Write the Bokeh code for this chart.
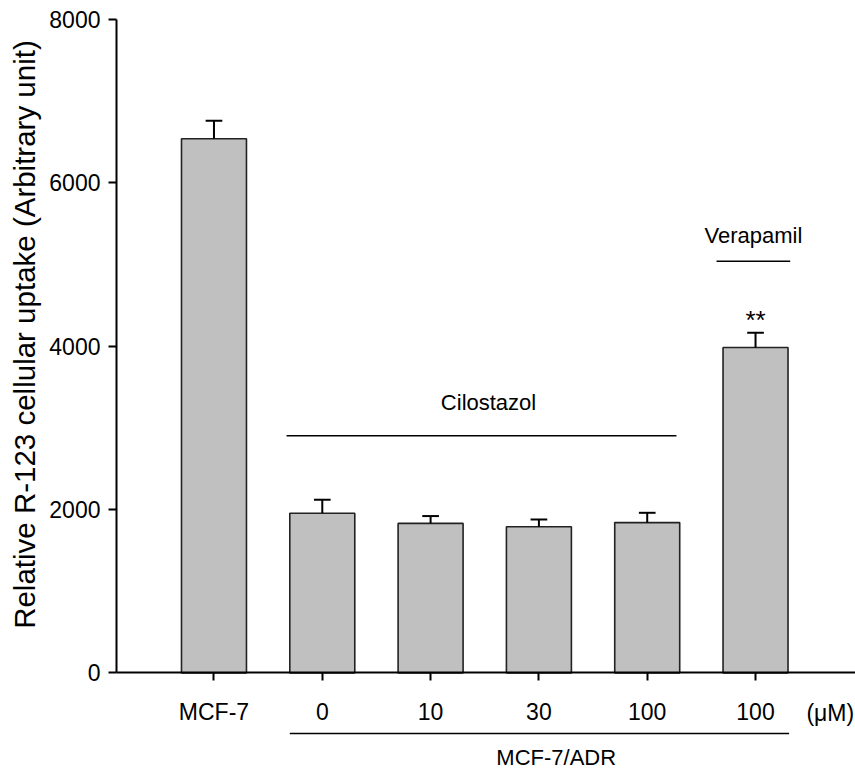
import math
from bokeh.plotting import figure
from bokeh.models import Range1d, FixedTicker, Label, ColumnDataSource
from bokeh.embed import file_html
from bokeh.resources import INLINE

# ---- data ----
categories = ["MCF-7", "0", "10", "30", "100", "100"]
positions = [1, 2, 3, 4, 5, 6]
values = [6540, 1955, 1830, 1790, 1840, 3985]
errors = [220, 165, 90, 88, 120, 180]
y_ticks = [0, 2000, 4000, 6000, 8000]
y_title = "Relative R-123 cellular uptake (Arbitrary unit)"

FONT = "Liberation Sans"

p = figure(width=855, height=770, output_backend="svg", toolbar_location=None,
           x_range=Range1d(-0.971, 6.923), y_range=Range1d(-1196, 8234),
           min_border_left=0, min_border_right=0, min_border_top=0,
           min_border_bottom=0)
p.outline_line_color = None
p.grid.visible = False
p.background_fill_color = "white"

tops = [v + e for v, e in zip(values, errors)]
src = ColumnDataSource(dict(x=positions, top=values, etop=tops,
                            cl=[x - 0.077 for x in positions],
                            cr=[x + 0.077 for x in positions]))

p.vbar(x="x", top="top", bottom=0, width=0.6, source=src,
       fill_color="#c0c0c0", line_color="#222222", line_width=1.6)
p.segment(x0="x", y0="top", x1="x", y1="etop", source=src,
          line_color="black", line_width=2)
p.segment(x0="cl", y0="etop", x1="cr", y1="etop", source=src,
          line_color="black", line_width=2)

# axes
for ax in (p.xaxis[0], p.yaxis[0]):
    ax.axis_line_width = 2
    ax.axis_line_color = "black"
    ax.major_tick_line_width = 2
    ax.major_tick_line_color = "black"
    ax.major_tick_out = 8
    ax.major_tick_in = 0
    ax.minor_tick_line_color = None
    ax.major_label_text_font = FONT
    ax.major_label_text_font_size = "23px"
    ax.major_label_text_color = "black"

p.yaxis.fixed_location = 0.1
p.yaxis.ticker = FixedTicker(ticks=y_ticks)
p.yaxis.bounds = (0, 8000)
p.yaxis.major_label_standoff = 8

p.xaxis.fixed_location = 0
p.xaxis.bounds = (0.1, 6.923)
p.xaxis.ticker = FixedTicker(ticks=positions)
p.xaxis.major_label_overrides = {pos: lab for pos, lab in zip(positions, categories)}
p.xaxis.major_label_standoff = 18

def label(x, y, text, size="22px", angle=0.0):
    p.add_layout(Label(x=x, y=y, text=text, text_font=FONT, text_font_size=size,
                       text_color="black", text_align="center", text_baseline="middle",
                       angle=angle))

def hline(x0, x1, y):
    p.segment(x0=[x0], y0=[y], x1=[x1], y1=[y], line_color="black", line_width=1.5)

label(-0.75, 4143, y_title, "29.5px", math.pi / 2)
label(3.535, 3314, "Cilostazol")
hline(1.67, 5.27, 2903)
label(5.98, 5356, "Verapamil")
hline(5.64, 6.32, 5041)
label(6.0, 4320, "**", "26px")
label(6.69, -486, "(μM)", "23px")
hline(1.7, 6.31, -743)
label(4.16, -1037, "MCF-7/ADR")

open("out.html", "w").write(file_html(p, INLINE))
